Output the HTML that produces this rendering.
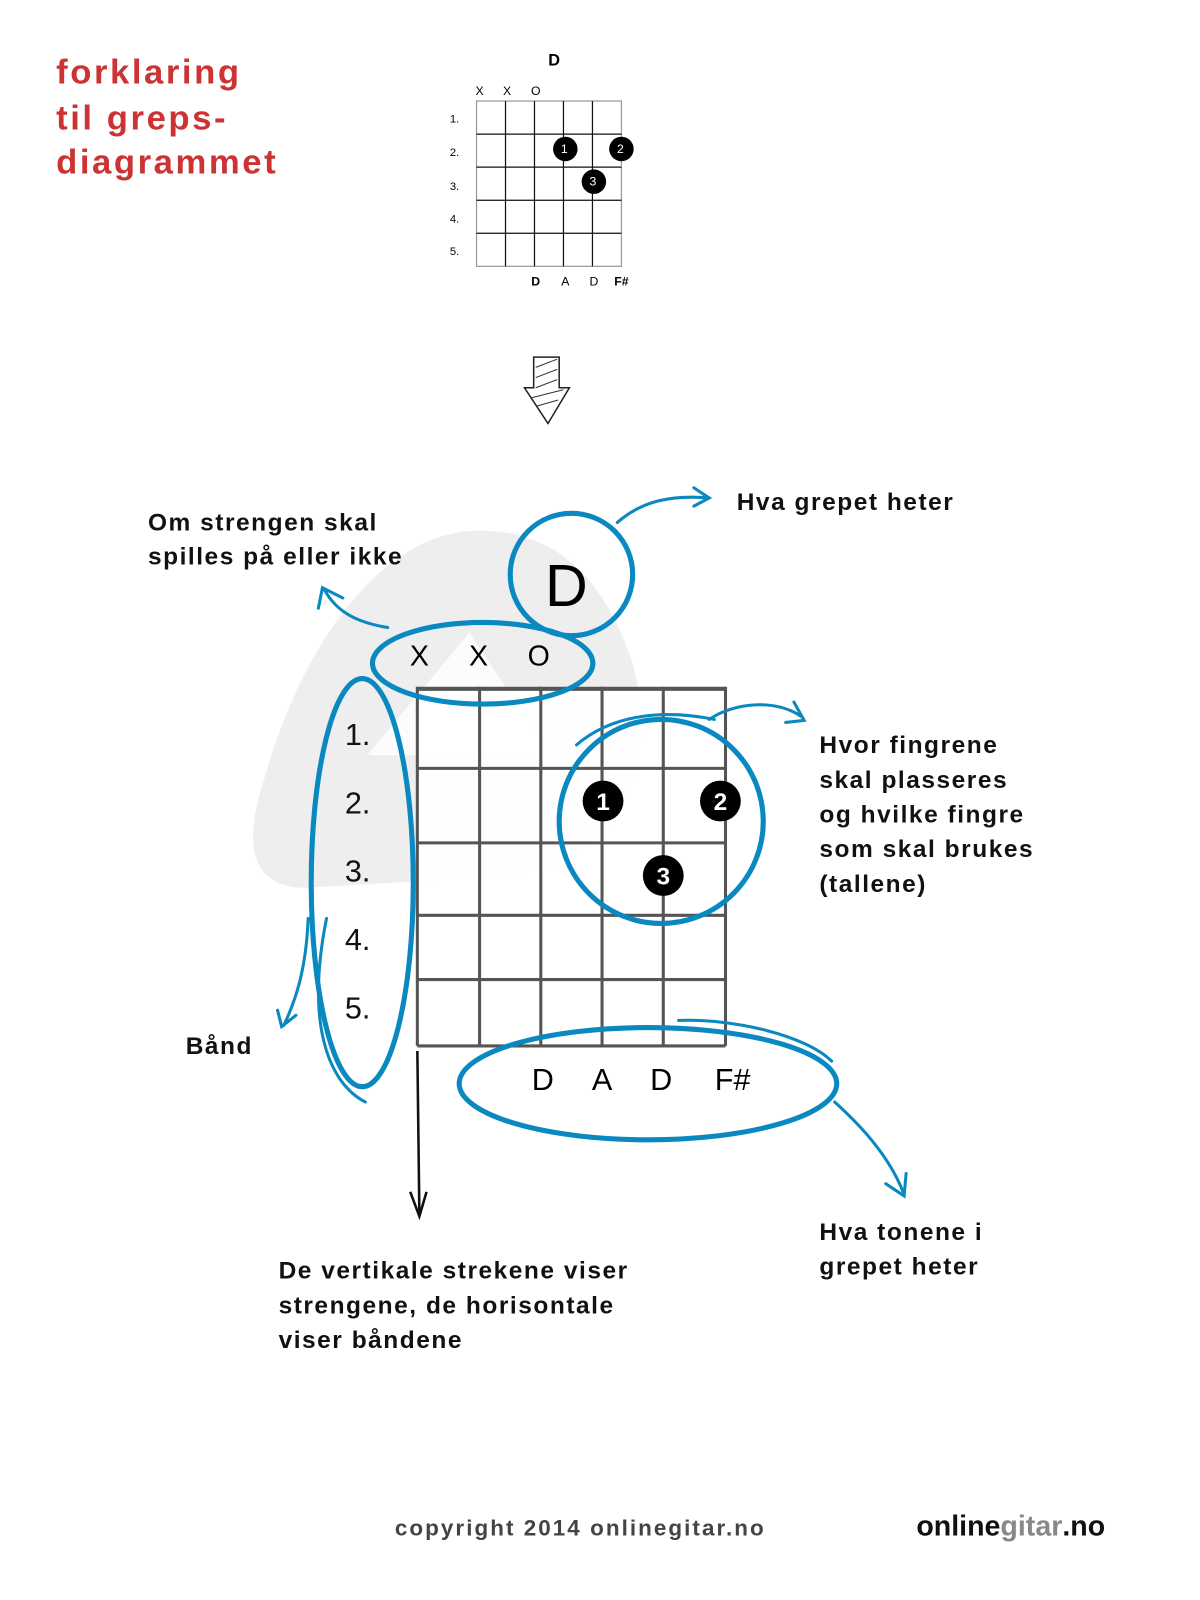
<!DOCTYPE html>
<html><head><meta charset="utf-8"><style>
html,body{margin:0;padding:0;background:#fff;}
svg{display:block;}
text{font-family:"Liberation Sans",sans-serif;}
.h{font-family:"Liberation Sans",sans-serif;font-weight:bold;fill:#111;font-size:24px;letter-spacing:1.5px;}
</style></head><body>
<svg width="1200" height="1600" viewBox="0 0 1176 1568" xmlns="http://www.w3.org/2000/svg">
<rect width="1176" height="1568" fill="#fff"/>
<g fill="#cc3333" font-size="34" font-weight="bold" style="letter-spacing:2.5px">
<text x="55" y="82">forklaring</text>
<text x="55" y="127">til greps-</text>
<text x="55" y="170">diagrammet</text>
</g>
<text x="543" y="64" font-size="16" font-weight="bold" text-anchor="middle">D</text>
<g font-size="12" text-anchor="middle"><text x="470" y="93">X</text><text x="497" y="93">X</text><text x="525" y="93">O</text></g>
<g font-size="11" text-anchor="end"><text x="450" y="120">1.</text><text x="450" y="153">2.</text><text x="450" y="186">3.</text><text x="450" y="218">4.</text><text x="450" y="250">5.</text></g>
<rect x="467" y="99" width="142" height="162" fill="#fff" stroke="#999" stroke-width="1.2"/>
<g stroke="#111" stroke-width="1.2">
<line x1="495.4" y1="99" x2="495.4" y2="261"/><line x1="523.8" y1="99" x2="523.8" y2="261"/><line x1="552.2" y1="99" x2="552.2" y2="261"/><line x1="580.6" y1="99" x2="580.6" y2="261"/>
<line x1="467" y1="131.4" x2="609" y2="131.4"/><line x1="467" y1="163.8" x2="609" y2="163.8"/><line x1="467" y1="196.2" x2="609" y2="196.2"/><line x1="467" y1="228.6" x2="609" y2="228.6"/>
</g>
<g fill="#000"><circle cx="554" cy="146" r="12"/><circle cx="609" cy="146" r="12"/><circle cx="582" cy="178" r="12"/></g>
<g fill="#fff" font-size="12" text-anchor="middle"><text x="553" y="150">1</text><text x="608" y="150">2</text><text x="581" y="182">3</text></g>
<g font-size="12" text-anchor="middle"><text x="525" y="280" font-weight="bold">D</text><text x="554" y="280">A</text><text x="582" y="280">D</text><text x="609" y="280" font-weight="bold">F#</text></g>
<path d="M523 350 L548 350 L548 380 L558 380 L537 415 L514 380 L523 380 Z" fill="#fff" stroke="#222" stroke-width="1.5"/>
<g stroke="#333" stroke-width="1"><line x1="525" y1="360" x2="546" y2="352"/><line x1="525" y1="370" x2="546" y2="362"/><line x1="525" y1="380" x2="546" y2="372"/><line x1="520" y1="390" x2="552" y2="382"/><line x1="526" y1="398" x2="547" y2="392"/></g>
<path d="M470 520 C540 520 590 560 620 650 C650 760 600 860 470 860 L300 870 C240 870 240 820 260 760 C300 620 380 520 470 520 Z" fill="#eeeeee"/>
<path d="M460 620 L540 740 L360 740 Z" fill="#fff" opacity="0.8"/>
<rect x="409" y="673" width="302" height="352" fill="#fff" opacity="0.9"/>
<g stroke="#555" stroke-width="3">
<line x1="409" y1="673" x2="409" y2="1025"/><line x1="470" y1="673" x2="470" y2="1025"/><line x1="530" y1="673" x2="530" y2="1025"/><line x1="590" y1="673" x2="590" y2="1025"/><line x1="650" y1="673" x2="650" y2="1025"/><line x1="711" y1="673" x2="711" y2="1025"/>
<line x1="409" y1="675" x2="711" y2="675" stroke-width="4"/><line x1="409" y1="753" x2="711" y2="753"/><line x1="409" y1="826" x2="711" y2="826"/><line x1="409" y1="897" x2="711" y2="897"/><line x1="409" y1="960" x2="711" y2="960"/><line x1="409" y1="1025" x2="711" y2="1025"/>
</g>
<g font-size="30" fill="#111"><text x="338" y="730">1.</text><text x="338" y="797">2.</text><text x="338" y="864">3.</text><text x="338" y="931">4.</text><text x="338" y="998">5.</text></g>
<text x="555" y="594" font-size="58" text-anchor="middle">D</text>
<g font-size="28" text-anchor="middle"><text x="411" y="652">X</text><text x="469" y="652">X</text><text x="528" y="652">O</text></g>
<g fill="#000"><circle cx="591" cy="785" r="20"/><circle cx="706" cy="785" r="20"/><circle cx="650" cy="858" r="20"/></g>
<g fill="#fff" font-size="24" font-weight="bold" text-anchor="middle"><text x="591" y="794">1</text><text x="706" y="794">2</text><text x="650" y="867">3</text></g>
<g font-size="30" text-anchor="middle"><text x="532" y="1068">D</text><text x="590" y="1068">A</text><text x="648" y="1068">D</text><text x="718" y="1068">F#</text></g>
<g fill="none" stroke="#0a88c0" stroke-width="5" stroke-linecap="round">
<circle cx="560" cy="563" r="60"/>
<ellipse cx="473" cy="650" rx="108" ry="40"/>
<ellipse cx="355" cy="865" rx="50" ry="200"/>
<path d="M320 900 C300 1000 320 1060 358 1080" stroke-width="3"/>
<circle cx="648" cy="805" r="100"/>
<path d="M565 730 C600 700 650 695 700 705" stroke-width="3"/>
<ellipse cx="635" cy="1062" rx="185" ry="55"/>
<path d="M665 1000 C720 998 790 1015 815 1040" stroke-width="3"/>
<path d="M605 512 C630 490 660 485 695 488" stroke-width="3"/><path d="M680 478 L695 488 L680 496" stroke-width="3"/>
<path d="M380 615 C350 610 330 600 318 578" stroke-width="3"/><path d="M312 596 L316 576 L336 586" stroke-width="3"/>
<path d="M695 705 C720 688 760 685 785 702" stroke-width="3"/><path d="M770 708 L788 706 L778 688" stroke-width="3"/>
<path d="M302 900 C300 950 290 980 278 1005" stroke-width="3"/><path d="M272 990 L276 1006 L290 995" stroke-width="3"/>
<path d="M818 1080 C840 1100 870 1130 885 1168" stroke-width="3"/><path d="M868 1160 L886 1172 L888 1150" stroke-width="3"/>
</g>
<path d="M409 1030 L411 1190" stroke="#111" stroke-width="2.5" fill="none"/><path d="M402 1168 L411 1192 L418 1168" stroke="#111" stroke-width="2.5" fill="none"/>
<text class="h" x="145" y="520">Om strengen skal</text>
<text class="h" x="145" y="553">spilles på eller ikke</text>
<text class="h" x="722" y="500">Hva grepet heter</text>
<text class="h" x="803" y="738">Hvor fingrene</text>
<text class="h" x="803" y="772">skal plasseres</text>
<text class="h" x="803" y="806">og hvilke fingre</text>
<text class="h" x="803" y="840">som skal brukes</text>
<text class="h" x="803" y="874">(tallene)</text>
<text class="h" x="182" y="1033">Bånd</text>
<text class="h" x="803" y="1215">Hva tonene i</text>
<text class="h" x="803" y="1249">grepet heter</text>
<text class="h" x="273" y="1253">De vertikale strekene viser</text>
<text class="h" x="273" y="1287">strengene, de horisontale</text>
<text class="h" x="273" y="1321">viser båndene</text>
<text x="387" y="1505" font-size="22" font-weight="bold" fill="#444" style="letter-spacing:2px">copyright 2014 onlinegitar.no</text>
<text x="898" y="1505" font-size="28" font-weight="bold" fill="#111">online<tspan fill="#888">gitar</tspan>.no</text>
</svg>
</body></html>
